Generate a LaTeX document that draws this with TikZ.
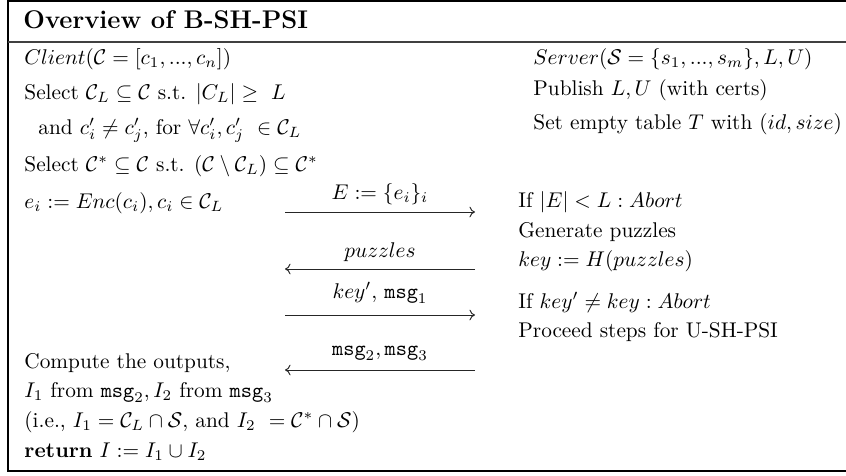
\documentclass[tikz,border=0pt]{standalone}
\usetikzlibrary{arrows.meta}
\begin{document}
\begin{tikzpicture}[x=0.4695pt, y=-0.4695pt,
  txt/.style={anchor=base west, inner sep=0pt, font=\normalsize},
  lbl/.style={anchor=base, inner sep=0pt},
  msgarrow/.style={-{To[length=2.6pt,width=5pt]}, line width=0.45pt, black!85},
  frame/.style={line width=0.6pt, black}]
\useasboundingbox (0,0) rectangle (846,475);
% frame
\draw[frame] (850,1) -- (8,1) -- (8,471) -- (850,471);
\draw[line width=0.6pt, black!75] (8,42) -- (850,42);
% title
\node[txt, font=\large\bfseries] (title) at (23,28) {Overview of B-SH-PSI};
% client column
\node[txt] (c1) at (24,64) {$Client(\mathcal{C} = [c_1, ..., c_n])$};
\node[txt] (c2) at (24,99) {Select $\mathcal{C}_L \subseteq \mathcal{C}$ s.t. $|C_L| \geq\ L$};
\node[txt] (c3) at (38,134) {and $c'_i \neq c'_j,$ for $\forall c'_i, c'_j\ \in \mathcal{C}_L$};
\node[txt] (c4) at (24,171) {Select $\mathcal{C}^* \subseteq \mathcal{C}$ s.t. $(\mathcal{C} \setminus \mathcal{C}_L) \subseteq \mathcal{C}^*$};
\node[txt] (c5) at (24,208) {$e_i := Enc(c_i), c_i \in \mathcal{C}_L$};
\node[txt] (c6) at (24,368) {Compute the outputs,};
\node[txt] (c7) at (24,397) {$I_1$ from $\mathtt{msg}_2, I_2$ from $\mathtt{msg}_3$};
\node[txt] (c8) at (24,427) {(i.e., $I_1 = \mathcal{C}_L \cap \mathcal{S},$ and $I_2\ = \mathcal{C}^* \cap \mathcal{S}$)};
\node[txt] (c9) at (24,457) {\textbf{return} $I := I_1 \cup I_2$};
% server column
\node[txt] (s1) at (533,64) {$Server(\mathcal{S} = \{s_1, ..., s_m\}, L, U)$};
\node[txt] (s2) at (533,95) {Publish $L, U$ (with certs)};
\node[txt] (s3) at (533,129) {Set empty table $T$ with $(id, size)$};
\node[txt] (s4) at (518,207) {If $|E| < L : Abort$};
\node[txt] (s5) at (518,237) {Generate puzzles};
\node[txt] (s6) at (518,266) {$key := H(puzzles)$};
\node[txt] (s7) at (518,308) {If $key' \neq key : Abort$};
\node[txt] (s8) at (518,337) {Proceed steps for U-SH-PSI};
% messages
\coordinate (m1l) at (285,212); \coordinate (m1r) at (475,212);
\coordinate (m2l) at (285,269); \coordinate (m2r) at (475,269);
\coordinate (m3l) at (285,315); \coordinate (m3r) at (475,315);
\coordinate (m4l) at (285,370); \coordinate (m4r) at (475,370);
\draw[msgarrow] (m1l) -- (m1r);
\draw[msgarrow] (m2r) -- (m2l);
\draw[msgarrow] (m3l) -- (m3r);
\draw[msgarrow] (m4r) -- (m4l);
\node[lbl] (l1) at (380,199) {$E := \{e_i\}_i$};
\node[lbl] (l2) at (380,257) {$puzzles$};
\node[lbl] (l3) at (380,298) {$key'$, $\mathtt{msg}_1$};
\node[lbl] (l4) at (380,355) {$\mathtt{msg}_2, \mathtt{msg}_3$};
\end{tikzpicture}
\end{document}
